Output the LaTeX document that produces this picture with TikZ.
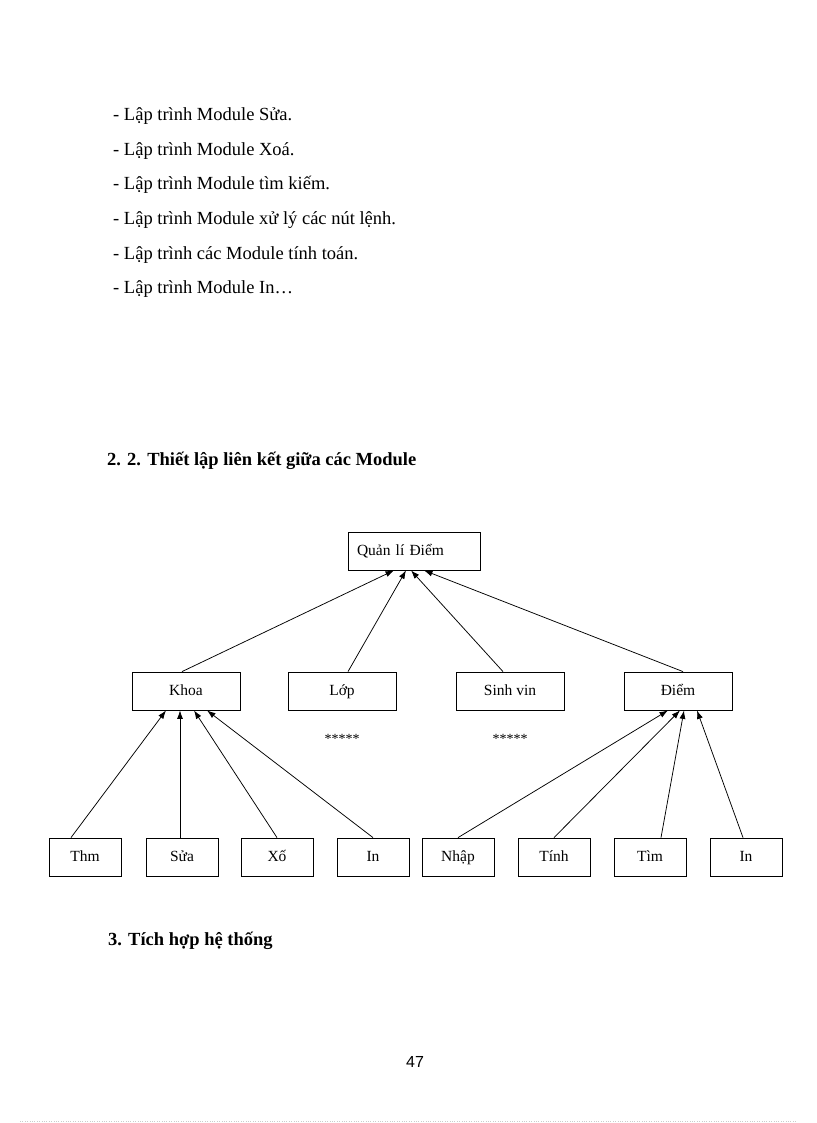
\documentclass[tikz,border=0pt]{standalone}
\usepackage{fontspec}
\setmainfont{Liberation Serif}
\newfontfamily\pagenofont{Liberation Sans}
\usetikzlibrary{arrows.meta}
\usetikzlibrary{positioning}

\begin{document}
\begin{tikzpicture}[x=1pt,y=-1pt,
        every node/.style={inner sep=0pt},
        textline/.style={font=\fontsize{18.5}{22}\selectfont,anchor=base west},
        heading/.style={font=\fontsize{18.5}{22}\selectfont\bfseries,anchor=base west},
        module/.style={draw,line width=0.8pt,minimum width=108pt,minimum height=38pt,
                       text height=11pt,text depth=3pt,font=\fontsize{15.5}{18}\selectfont},
        leaf/.style={module,minimum width=72pt},
        link/.style={-{Latex[length=8.5pt,width=6pt]},line width=0.75pt},
        stars/.style={font=\fontsize{14}{16}\selectfont},
  ]
    \useasboundingbox (0,0) rectangle (816,1123);

    % list of modules
    \node[textline] (l1) at (113,121) {- Lập trình Module Sửa.};
    \node[textline] (l2) at (113,155.5) {- Lập trình Module Xoá.};
    \node[textline] (l3) at (113,190) {- Lập trình Module tìm kiếm.};
    \node[textline] (l4) at (113,224.5) {- Lập trình Module xử lý các nút lệnh.};
    \node[textline] (l5) at (113,259) {- Lập trình các Module tính toán.};
    \node[textline] (l6) at (113,293.5) {- Lập trình Module In…};

    \node[heading] (h22) at (107,465) {2. 2. Thiết lập liên kết giữa các Module};

    % root
    \node[module,text width=114pt,inner xsep=9pt,align=left] (qld) at (414,551) {Quản lí Điểm};

    % second level
    \node[module] (khoa) at (186,691) {Khoa};
    \node[module] (lop) at (342,691) {Lớp};
    \node[module] (sv) at (510,691) {Sinh vin};
    \node[module] (diem) at (678,691) {Điểm};

    \node[stars] (lopstars) at (342,739) {*****};
    \node[stars] (svstars) at (510,739) {*****};

    % third level
    \node[leaf] (them) at (85,857) {Thm};
    \node[leaf] (sua) at (182,857) {Sửa};
    \node[leaf] (xoa) at (277,857) {Xố};
    \node[leaf] (inkhoa) at (373,857) {In};
    \node[leaf] (nhap) at (458,857) {Nhập};
    \node[leaf] (tinh) at (554,857) {Tính};
    \node[leaf] (tim) at (650,857) {Tìm};
    \node[leaf] (indiem) at (746,857) {In};

    \draw[link] ([xshift=-4pt]khoa.north) -- ([xshift=-20pt]qld.south);
    \draw[link] ([xshift=6pt]lop.north) -- ([xshift=-8pt]qld.south);
    \draw[link] ([xshift=-7pt]sv.north) -- ([xshift=-3pt]qld.south);
    \draw[link] ([xshift=5pt]diem.north) -- ([xshift=10pt]qld.south);

    \draw[link] ([xshift=-14pt]them.north) -- ([xshift=-20pt]khoa.south);
    \draw[link] ([xshift=-2pt]sua.north) -- ([xshift=-6pt]khoa.south);
    \draw[link] (xoa.north) -- ([xshift=8pt]khoa.south);
    \draw[link] (inkhoa.north) -- ([xshift=21pt]khoa.south);

    \draw[link] (nhap.north) -- ([xshift=-10pt]diem.south);
    \draw[link] (tinh.north) -- ([xshift=2pt]diem.south);
    \draw[link] ([xshift=11pt]tim.north) -- ([xshift=6pt]diem.south);
    \draw[link] ([xshift=-3pt]indiem.north) -- ([xshift=19pt]diem.south);

    \node[heading] (h3) at (108,945) {3. Tích hợp hệ thống};

    \node[font=\pagenofont\fontsize{16}{18}\selectfont] (pageno) at (415,1062) {47};
    \draw[gray!40,dotted] (20,1121) -- (796,1121);
\end{tikzpicture}
\end{document}
